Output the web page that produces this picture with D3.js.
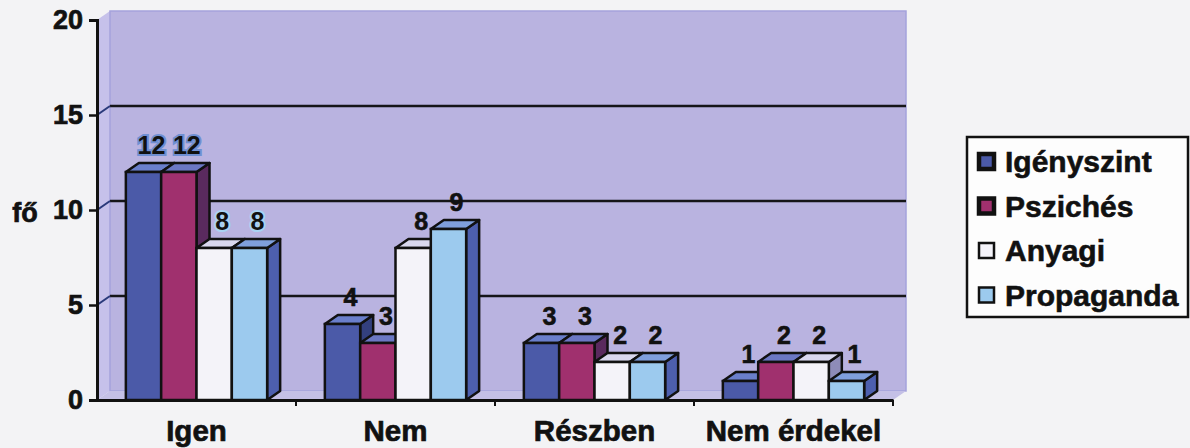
<!DOCTYPE html>
<html>
<head>
<meta charset="utf-8">
<script src="https://cdn.jsdelivr.net/npm/d3@7"></script>
<style>
  body { margin: 0; background: #f3f3f5; }
  svg { display: block; }
</style>
</head>
<body>
<script>
var categories = ["Igen", "Nem", "Részben", "Nem érdekel"];
var series_names = ["Igényszint", "Pszichés", "Anyagi", "Propaganda"];
var igenyszint = [12, 4, 3, 1];
var psziches = [12, 3, 3, 2];
var anyagi = [8, 8, 2, 2];
var propaganda = [8, 9, 2, 1];
var y_ticks = [0, 5, 10, 15, 20];
var y_title = "fő";

var series_values = [igenyszint, psziches, anyagi, propaganda];

var width = 1190, height = 448;
var depth_x = 13, depth_y = -9;   // 3d offset of the back wall
var font = "'Liberation Sans', Arial, sans-serif";

// front / top / side colour for every series
var colors = [
    {front: "#4b5aa8", top: "#6a7fcb", side: "#33407e"},
    {front: "#a0306e", top: "#6b78c4", side: "#5a2a5e"},
    {front: "#f4f3f9", top: "#d9d8ee", side: "#8e8cb8"},
    {front: "#9ccaee", top: "#7f9fdc", side: "#4d5fae"}
];

var x0 = d3.scaleBand()
    .domain(categories)
    .range([97, 893])
    .paddingInner(0.29)
    .paddingOuter(0.145);
var x1 = d3.scaleBand()
    .domain(series_names)
    .range([0, x0.bandwidth()]);
var y = d3.scaleLinear()
    .domain([0, 20])
    .range([400, 20]);

var svg = d3.select("body").append("svg")
    .attr("width", width)
    .attr("height", height)
    .style("font-family", font);

var left = x0.range()[0], right = x0.range()[1];

// walls
svg.append("polygon")
    .attr("points", [[left, y(20)], [left + depth_x, y(20) + depth_y], [left + depth_x, y(0) + depth_y], [left, y(0)]].join(" "))
    .attr("fill", "#c6c1ea");
svg.append("rect")
    .attr("x", left + depth_x)
    .attr("y", y(20) + depth_y)
    .attr("width", right - left)
    .attr("height", y(0) - y(20))
    .attr("fill", "#b9b3e0")
    .attr("stroke", "#a5a3dc")
    .attr("stroke-width", 1.5);
svg.append("polygon")
    .attr("points", [[left, y(0)], [left + depth_x, y(0) + depth_y], [right + depth_x, y(0) + depth_y], [right, y(0)]].join(" "))
    .attr("fill", "#c4c0e6");

// gridlines on back and left wall
var grid = svg.append("g");
[5, 10, 15].forEach(function(v) {
    grid.append("line")
        .attr("x1", left + depth_x).attr("x2", right + depth_x)
        .attr("y1", y(v) + depth_y).attr("y2", y(v) + depth_y)
        .attr("stroke", "#151518").attr("stroke-width", 2.5);
    grid.append("line")
        .attr("x1", left).attr("x2", left + depth_x)
        .attr("y1", y(v)).attr("y2", y(v) + depth_y)
        .attr("stroke", "#2a3a7a").attr("stroke-width", 2);
});

// bars
var bar_data = [];
categories.forEach(function(c, ci) {
    series_names.forEach(function(s, si) {
        bar_data.push({cat: c, name: s, si: si, value: series_values[si][ci]});
    });
});

var bars = svg.append("g").selectAll("g")
    .data(bar_data)
    .join("g");

bars.append("polygon")
    .attr("points", function(d) {
        var bx = x0(d.cat) + x1(d.name) + x1.bandwidth(), by = y(d.value);
        return [[bx, by], [bx + depth_x, by + depth_y], [bx + depth_x, y(0) + depth_y], [bx, y(0)]].join(" ");
    })
    .attr("fill", d => colors[d.si].side)
    .attr("stroke", "#111").attr("stroke-width", 2.5).attr("stroke-linejoin", "round");
bars.append("polygon")
    .attr("points", function(d) {
        var bx = x0(d.cat) + x1(d.name), bw = x1.bandwidth(), by = y(d.value);
        return [[bx, by], [bx + depth_x, by + depth_y], [bx + bw + depth_x, by + depth_y], [bx + bw, by]].join(" ");
    })
    .attr("fill", d => colors[d.si].top)
    .attr("stroke", "#111").attr("stroke-width", 2.5).attr("stroke-linejoin", "round");
bars.append("rect")
    .attr("x", d => x0(d.cat) + x1(d.name))
    .attr("y", d => y(d.value))
    .attr("width", x1.bandwidth())
    .attr("height", d => y(0) - y(d.value))
    .attr("fill", d => colors[d.si].front)
    .attr("stroke", "#111").attr("stroke-width", 2.5);

// data labels
svg.append("g").selectAll("text")
    .data(bar_data)
    .join("text")
    .attr("x", d => x0(d.cat) + x1(d.name) + x1.bandwidth() / 2 + 8)
    .attr("y", d => y(d.value) + depth_y - 9)
    .attr("text-anchor", "middle")
    .style("font-size", "25px")
    .style("font-weight", "bold")
    .attr("fill", "#111")
    .attr("stroke", d => d.cat == "Igen" ? (d.value > 10 ? "#6f8fd2" : "#a9d3f3") : "#111")
    .attr("stroke-width", d => d.cat == "Igen" ? 4 : 0.6)
    .attr("paint-order", "stroke")
    .text(d => d.value);

// y axis
var y_axis = svg.append("g")
    .attr("transform", `translate(${left},0)`)
    .call(d3.axisLeft(y).tickValues(y_ticks).tickSize(8).tickPadding(6));
y_axis.select(".domain").attr("stroke", "#111").attr("stroke-width", 3);
y_axis.selectAll(".tick line").attr("stroke", "#111").attr("stroke-width", 2.5);
y_axis.selectAll(".tick text")
    .attr("fill", "#111")
    .attr("stroke", "#111").attr("stroke-width", 0.7)
    .style("font-size", "27px")
    .style("font-weight", "bold")
    .style("font-family", font);

svg.append("text")
    .attr("x", 25)
    .attr("y", 222)
    .attr("text-anchor", "middle")
    .style("font-size", "27px")
    .style("font-weight", "bold")
    .attr("fill", "#111")
    .attr("stroke", "#111").attr("stroke-width", 0.7)
    .text(y_title);

// x axis
var x_axis = svg.append("g")
    .attr("transform", `translate(0,${y(0)})`)
    .call(d3.axisBottom(x0).tickSize(0).tickPadding(20));
x_axis.select(".domain").attr("stroke", "#111").attr("stroke-width", 3);
x_axis.selectAll(".tick text")
    .attr("fill", "#111")
    .attr("stroke", "#111").attr("stroke-width", 0.7)
    .style("font-size", "29.5px")
    .style("font-weight", "bold")
    .style("font-family", font);
x_axis.selectAll(".boundary")
    .data(categories)
    .join("line")
    .attr("class", "boundary")
    .attr("x1", d => x0(d) - x0.step() * x0.paddingInner() / 2 + x0.step())
    .attr("x2", d => x0(d) - x0.step() * x0.paddingInner() / 2 + x0.step())
    .attr("y1", 0).attr("y2", 6)
    .attr("stroke", "#111").attr("stroke-width", 2);

// legend
var legend = svg.append("g").attr("transform", "translate(967,137)");
legend.append("rect")
    .attr("width", 221).attr("height", 180)
    .attr("fill", "#fdfdfd")
    .attr("stroke", "#111").attr("stroke-width", 2.5);
var item = legend.selectAll(".item")
    .data(series_names)
    .join("g")
    .attr("class", "item")
    .attr("transform", (d, i) => `translate(12,${25 + i * 44.5})`);
item.append("rect")
    .attr("x", 0).attr("y", -8)
    .attr("width", 15).attr("height", 15)
    .attr("fill", (d, i) => colors[i].front)
    .attr("stroke", "#111")
    .attr("stroke-width", (d, i) => i < 2 ? 4.5 : 2.5);
item.append("text")
    .attr("x", 26)
    .attr("y", 10)
    .style("font-size", "30px")
    .style("font-weight", "bold")
    .attr("fill", "#111")
    .attr("stroke", "#111").attr("stroke-width", 0.6)
    .text(d => d);
</script>
</body>
</html>
